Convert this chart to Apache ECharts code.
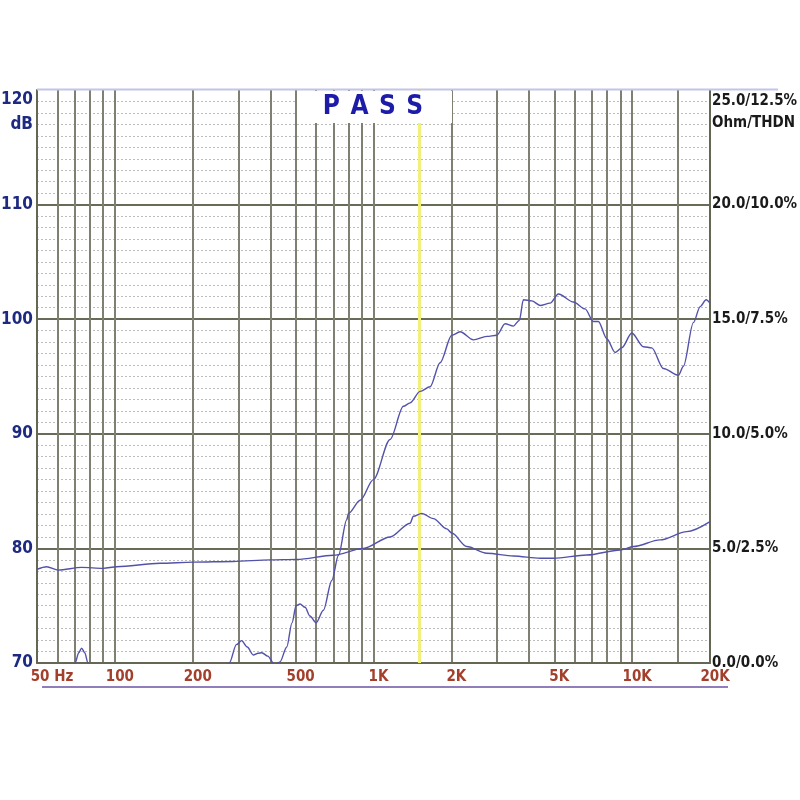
<!DOCTYPE html>
<html><head><meta charset="utf-8">
<script src="https://cdn.jsdelivr.net/npm/echarts@6/dist/echarts.min.js"></script>
<style>html,body{margin:0;padding:0;background:#fff}#c{width:800px;height:800px}</style>
</head><body><div id="c"></div>
<script>
// ---- data ----
const splFreq = [50,60,66,70.2,72.5,74.4,76.5,78.7,84,100,150,200,250,277,295,309,325,343,358,370,390,416,435,462,484,502,520,544,568,600,640,690,732,788,800,888,999,1159,1305,1385,1514,1655,1809,2007,2162,2434,2741,2998,3226,3474,3664,3797,4093,4407,4817,5187,5928,6576,7084,7404,7980,8590,9120,9970,11060,11910,13210,15100,15790,17250,18320,19320,20000];
const splDb = [66,66.5,68.5,70,70.9,71.3,70.9,70,67.5,66,65.5,66,68,70,71.6,71.95,71.4,70.7,70.85,70.9,70.6,69.8,70.1,71.4,73.5,75,75.15,74.86,74.1,73.5,74.6,77.2,79.4,82.5,83.06,84.2,86,89.5,92.4,92.7,93.7,94.1,96.2,98.6,98.9,98.2,98.5,98.6,99.6,99.4,99.9,101.7,101.6,101.2,101.4,102.2,101.5,100.9,99.8,99.8,98.3,97.1,97.5,98.8,97.6,97.5,95.7,95.1,95.9,99.7,101.1,101.7,101.4];
const impFreq = [50,54.5,60.4,74.4,90.2,101.7,149.5,201,287,398,505,699,914,1159,1385,1426,1537,1704,1920,2007,2294,2741,3474,4407,4960,6680,8985,10110,12830,16270,20000];
const impOhm = [4.09,4.2,4.05,4.17,4.13,4.2,4.35,4.4,4.43,4.5,4.52,4.7,5.0,5.5,6.1,6.4,6.53,6.3,5.85,5.67,5.08,4.79,4.67,4.57,4.57,4.71,4.93,5.08,5.37,5.73,6.17];
const gridFreqs = [60,70,80,90,100,200,300,400,500,600,700,800,900,1000,2000,3000,4000,5000,6000,7000,8000,9000,10000,15000];
const labelFreqs = [50,100,200,500,1000,2000,5000,10000,20000];
const labelTexts = ['50 Hz','100','200','500','1K','2K','5K','10K','20K'];
const markerFreq = 1500;
const dbMin = 70, dbMax = 120, dbStep = 10;
const ohmMin = 0, ohmMax = 25, ohmStep = 5;
const titleText = 'P \u200AA \u200AS \u200AS';

const FONT = "'Liberation Sans Narrow','DejaVu Sans Condensed','Arial Narrow',sans-serif";
const chart = echarts.init(document.getElementById('c'), null, {renderer:'canvas'});
const curveStyle = {color:'#5252aa', width:1.4};

chart.setOption({
  animation:false,
  backgroundColor:'#ffffff',
  grid:{left:37, right:90, top:90, bottom:137, containLabel:false, outerBoundsMode:'none'},
  xAxis:{
    type:'log', logBase:10, min:50, max:20000,
    axisLine:{show:true, lineStyle:{color:'#666655', width:2}},
    axisTick:{show:false, customValues:gridFreqs},
    splitLine:{show:true, lineStyle:{color:'#808072', width:2}},
    axisLabel:{
      customValues:labelFreqs, margin:7,
      color:'#a3402c', fontFamily:FONT, fontWeight:'bold', fontSize:15,
      padding:[0,0,0,10],
      formatter:function(v){
        let best=0, bd=1e9;
        labelFreqs.forEach((f,i)=>{const d=Math.abs(Math.log10(f)-Math.log10(v)); if(d<bd){bd=d;best=i;}});
        return best===0 ? '{first|'+labelTexts[0]+'}' : labelTexts[best];
      },
      rich:{first:{padding:[0,0,0,20], color:'#a3402c', fontFamily:FONT, fontWeight:'bold', fontSize:15}}
    }
  },
  yAxis:[{
    type:'value', min:dbMin, max:dbMax, interval:dbStep, position:'left',
    name:'dB', nameLocation:'end', nameGap:-35, nameMoveOverlap:false,
    nameTextStyle:{color:'#1e2a80', fontFamily:FONT, fontWeight:'bold', fontSize:17, align:'right', verticalAlign:'middle', padding:[0,4,0,0]},
    axisLine:{show:true, lineStyle:{color:'#666655', width:2}},
    axisTick:{show:false},
    splitLine:{show:true, showMaxLine:false, lineStyle:{color:'#6a6a58', width:2}},
    minorTick:{show:false, splitNumber:10},
    minorSplitLine:{show:true, lineStyle:{color:'#bcbcbc', width:1, type:[2,2]}},
    axisLabel:{
      margin:4, color:'#1e2a80', fontFamily:FONT, fontWeight:'bold', fontSize:17,
      formatter:function(v){ return v===dbMax ? '{top|'+v+'}' : String(v); },
      rich:{top:{padding:[20,0,0,0], color:'#1e2a80', fontFamily:FONT, fontWeight:'bold', fontSize:17}}
    }
  },{
    type:'value', min:ohmMin, max:ohmMax, interval:ohmStep, position:'right',
    name:'Ohm/THDN', nameLocation:'end', nameGap:-33, nameMoveOverlap:false,
    nameTextStyle:{color:'#1a1a1a', fontFamily:FONT, fontWeight:'bold', fontSize:15, align:'left', verticalAlign:'middle', padding:[0,0,0,2]},
    axisLine:{show:true, lineStyle:{color:'#666655', width:2}},
    axisTick:{show:false},
    splitLine:{show:false},
    axisLabel:{
      margin:2, color:'#1a1a1a', fontFamily:FONT, fontWeight:'bold', fontSize:15,
      formatter:function(v){
        const t = v.toFixed(1)+'/'+(v/2).toFixed(1)+'%';
        return v===ohmMax ? '{top|'+t+'}' : t;
      },
      rich:{top:{padding:[22,0,0,0], color:'#1a1a1a', fontFamily:FONT, fontWeight:'bold', fontSize:15}}
    }
  }],
  graphic:[
    {type:'line', z:100, shape:{x1:37, y1:89.5, x2:778, y2:89.5}, style:{stroke:'#c4c4ea', lineWidth:2}},
    {type:'rect', z:100, shape:{x:297, y:91, width:155, height:32}, style:{fill:'#ffffff'}},
    {type:'text', z:101, x:373, y:107, style:{text:titleText, fill:'#1c1ca8', font:"bold 26px "+FONT, align:'center', verticalAlign:'middle'}},
    {type:'line', z:100, shape:{x1:42, y1:687, x2:728, y2:687}, style:{stroke:'#6a52a6', lineWidth:1.5}}
  ],
  series:[{
    type:'line', name:'SPL', yAxisIndex:0, z:6, clip:true,
    data: splFreq.map((f,i)=>[f, splDb[i]]),
    symbol:'none', smooth:0.3, smoothMonotone:'x',
    lineStyle:curveStyle,
    markLine:{silent:true, symbol:['none','none'], label:{show:false}, z:3,
      lineStyle:{color:'#f0f07a', width:3, type:'solid'},
      emphasis:{disabled:true},
      data:[{xAxis:markerFreq}]}
  },{
    type:'line', name:'Impedance', yAxisIndex:1, z:6, clip:true,
    data: impFreq.map((f,i)=>[f, impOhm[i]]),
    symbol:'none', smooth:0.3, smoothMonotone:'x',
    lineStyle:curveStyle
  }]
});
</script></body></html>
